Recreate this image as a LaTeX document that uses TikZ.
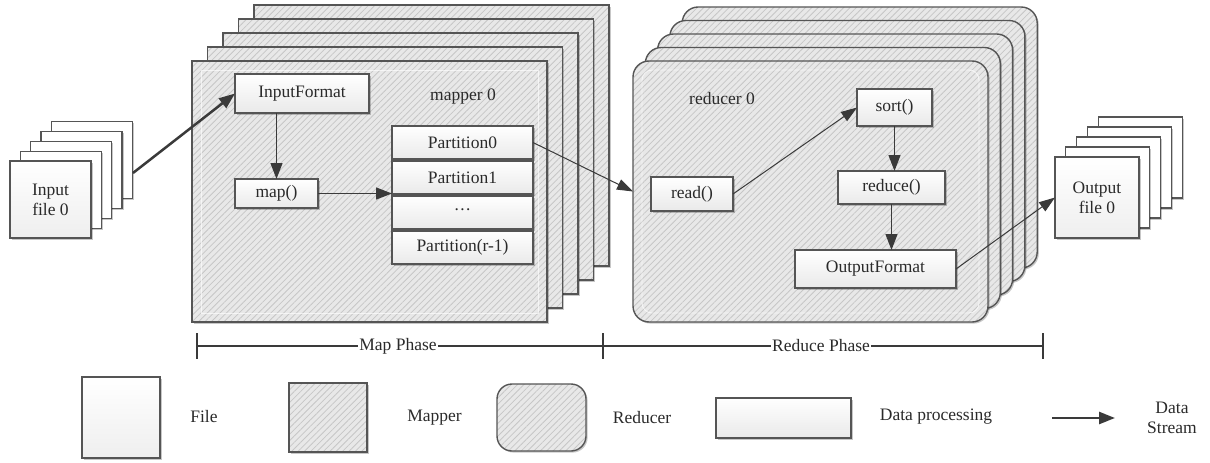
\documentclass[tikz,border=0pt]{standalone}
\usepackage{fontspec}
\setmainfont{Liberation Serif}
\usetikzlibrary{arrows.meta,patterns.meta,shadows}
\definecolor{bord}{HTML}{555555}
\definecolor{arr}{HTML}{3A3A3A}
\definecolor{txt}{HTML}{2A2A2A}
\newcommand\myfs{\fontsize{17.5}{20}\selectfont}
\tikzset{
  every node/.style={font=\myfs, text=txt},
  shad/.style={drop shadow={shadow xshift=1.6pt,shadow yshift=-1.6pt,opacity=0.22,fill=black}},
  proc/.style={shad, draw=bord, line width=1.2pt, top color=white, bottom color=gray!17, inner sep=0pt, outer sep=0pt},
  filebox/.style={shad, draw=bord, line width=1.3pt, top color=white, bottom color=gray!13, inner sep=0pt, outer sep=0pt, align=center, minimum width=81pt, minimum height=77pt},
  hatchbox/.style={shad, draw=bord, line width=1.4pt, preaction={fill=gray!18}, pattern={Lines[angle=45,distance=4.5pt,line width=0.8pt]}, pattern color=gray!45, inner sep=0pt, outer sep=0pt},
  flow/.style={-{Triangle[length=16pt,width=12pt]}, draw=arr, line width=1.3pt},
  thinflow/.style={-{Triangle[length=16pt,width=11pt]}, draw=arr, line width=1pt},
  bigflow/.style={-{Triangle[length=16pt,width=12pt]}, draw=arr, line width=2.5pt},
  inset/.style={draw=white, opacity=0.65, line width=0.9pt},
  plabel/.style={fill=white, inner sep=1pt},
}
\begin{document}
\begin{tikzpicture}[x=1pt,y=-1pt]
\useasboundingbox (0,0) rectangle (1210,463);

% ---------- input files ----------
\foreach \i in {4,3,2,1}{
  \node[filebox, top color=white, bottom color=white] (in\i) at ({50.5+10.3*\i},{199.5-9.8*\i}) {};
}
\node[filebox] (in0) at (50.5,199.5) {Input\\file 0};
\coordinate (inout) at (133,173);

% ---------- mappers ----------
\foreach \i in {4,3,2,1}{
  \node[hatchbox, minimum width=355pt, minimum height=261pt] (map\i) at ({369.5+15.5*\i},{191.5-14*\i}) {};
}
\node[hatchbox, minimum width=355pt, minimum height=261pt] (map0) at (369.5,191.5) {};
\draw[inset] ([shift={(9,9)}]map0.north west) rectangle ([shift={(-9,-9)}]map0.south east);

\node[proc, minimum width=134pt, minimum height=39pt] (ifmt) at (302,93.5) {InputFormat};
\node at (463,97) (mlabel) {mapper 0};
\node[proc, minimum width=83pt, minimum height=29pt] (map) at (276.5,193.5) {map()};
\node[proc, minimum width=141pt, minimum height=33pt] (p0) at (462.5,142.5) {Partition0};
\node[proc, minimum width=141pt, minimum height=33pt] (p1) at (462.5,177.5) {Partition1};
\node[proc, minimum width=141pt, minimum height=33pt] (p2) at (462.5,212.5) {···};
\node[proc, minimum width=141pt, minimum height=33pt] (p3) at (462.5,247.5) {Partition(r-1)};

% ---------- reducers ----------
\foreach \i in {4,3,2,1}{
  \node[hatchbox, rounded corners=16pt, minimum width=355pt, minimum height=261pt] (red\i) at ({810.5+12.3*\i},{191.5-13.5*\i}) {};
}
\node[hatchbox, rounded corners=16pt, minimum width=355pt, minimum height=261pt] (red0) at (810.5,191.5) {};
\draw[inset, rounded corners=10pt] ([shift={(9,9)}]red0.north west) rectangle ([shift={(-9,-9)}]red0.south east);

\node at (722,99) (rlabel) {reducer 0};
\node[proc, minimum width=82pt, minimum height=34pt] (read) at (692,194) {read()};
\node[proc, minimum width=75pt, minimum height=37pt] (sort) at (894.5,107.5) {sort()};
\node[proc, minimum width=107pt, minimum height=33pt] (reduce) at (891.5,187.5) {reduce()};
\node[proc, minimum width=161pt, minimum height=38pt] (ofmt) at (875.5,269) {OutputFormat};

% ---------- output files ----------
\foreach \i in {4,3,2,1}{
  \node[filebox, top color=white, bottom color=white, minimum width=84pt, minimum height=81pt] (out\i) at ({1097+10.8*\i},{197.5-10*\i}) {};
}
\node[filebox, minimum width=84pt, minimum height=81pt] (out0) at (1097,197.5) {Output\\file 0};

% ---------- connectors ----------
\draw[bigflow] (inout) -- (ifmt.west);
\draw[flow] (map.north |- ifmt.south) -- (map.north);
\draw[flow] (map.east) -- (map.east -| p1.west);
\draw[thinflow] (p0.east) -- (red0.west);
\draw[thinflow] (read.east) -- (sort.west);
\draw[flow] (sort.south) -- (sort.south |- reduce.north);
\draw[flow] (reduce.south) -- (reduce.south |- ofmt.north);
\draw[thinflow] (ofmt.east) -- (out0.west);

% ---------- phases ----------
\coordinate (ph1) at (197,346);
\coordinate (ph2) at (603,346);
\coordinate (ph3) at (1043,346);
\draw[arr, line width=2pt] (ph1) -- (ph3);
\foreach \c in {ph1,ph2,ph3}{
  \draw[arr, line width=2pt] ([yshift=13pt]\c) -- ([yshift=-13pt]\c);
}
\node[plabel] (mphase) at (398,346) {Map Phase};
\node[plabel] (rphase) at (821,346) {Reduce Phase};

% ---------- legend ----------
\node[filebox, minimum width=78pt, minimum height=81pt] (lfile) at (121,417.5) {};
\node (lfilet) at (204,417) {File};
\node[hatchbox, minimum width=78pt, minimum height=69pt] (lmap) at (328,417.5) {};
\node (lmapt) at (434.5,418) {Mapper};
\node[hatchbox, rounded corners=15pt, minimum width=89pt, minimum height=67pt] (lred) at (541.5,417.5) {};
\node (lredt) at (642,418) {Reducer};
\node[proc, minimum width=135pt, minimum height=40pt] (lproc) at (783.5,418) {};
\node (lproct) at (936,417) {Data processing};
\coordinate (la1) at (1052,418);
\coordinate (la2) at (1115,418);
\draw[bigflow] (la1) -- (la2);
\node[align=center, inner sep=0pt] (lstream) at (1172,418) {Data\\Stream};
\end{tikzpicture}
\end{document}
